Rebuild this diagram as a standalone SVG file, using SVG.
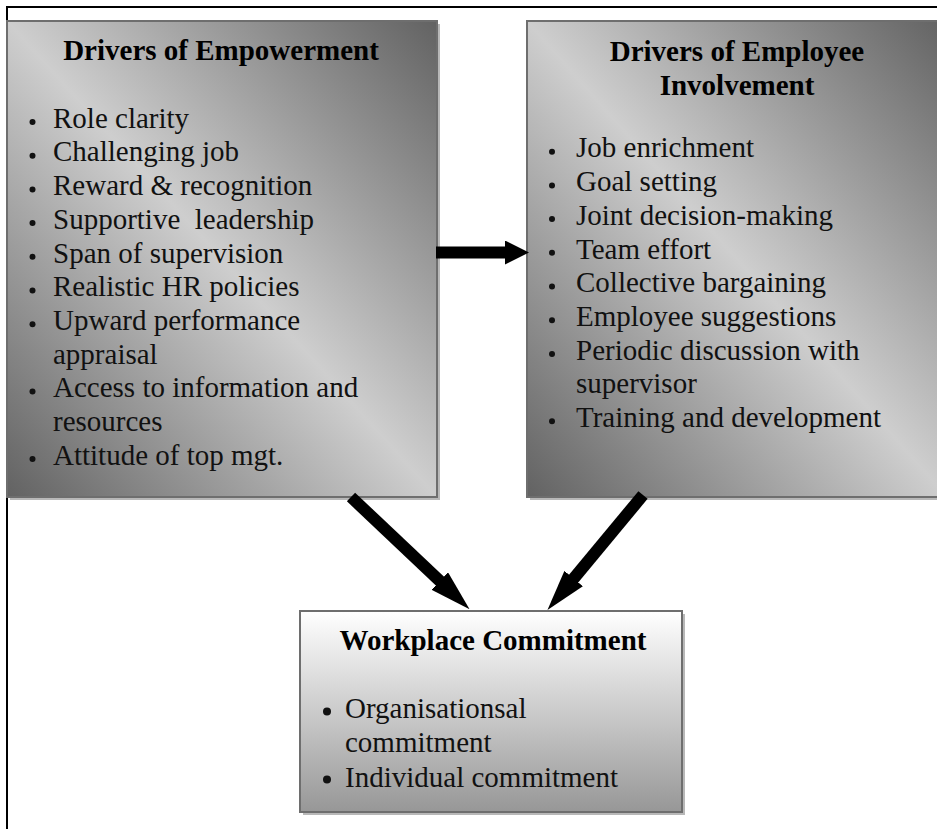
<svg xmlns="http://www.w3.org/2000/svg" width="937" height="829" viewBox="0 0 937 829">
<style>
  .frame { stroke: #000; stroke-width: 2; fill: none; }
  .box { stroke: #6e6e6e; stroke-width: 2; }
  .shadow { fill: #b8b8b8; }
  .title { font-family: "Liberation Serif", "Times New Roman", serif; font-size: 29px; font-weight: bold; fill: #000; text-anchor: middle; }
  .item { font-family: "Liberation Serif", "Times New Roman", serif; font-size: 29px; fill: #111; white-space: pre; }
  .bullet { fill: #111; }
  .conn { stroke: #000; stroke-width: 12; fill: none; }
</style>
<defs>
  <linearGradient id="diag" x1="1" y1="0" x2="0" y2="1">
    <stop offset="0" stop-color="#626262"/>
    <stop offset="0.5" stop-color="#cecece"/>
    <stop offset="1" stop-color="#626262"/>
  </linearGradient>
  <linearGradient id="vert" x1="0" y1="0" x2="0" y2="1">
    <stop offset="0" stop-color="#ffffff"/>
    <stop offset="1" stop-color="#979797"/>
  </linearGradient>
  <marker id="headShort" markerUnits="userSpaceOnUse" viewBox="0 -12 24 24" markerWidth="24" markerHeight="24" refX="1" refY="0" orient="auto">
    <path d="M0,-12 L24,0 L0,12 z" fill="#000"/>
  </marker>
  <marker id="headLong" markerUnits="userSpaceOnUse" viewBox="0 -12 41 24" markerWidth="41" markerHeight="24" refX="1" refY="0" orient="auto">
    <path d="M0,-12 L41,0 L0,12 z" fill="#000"/>
  </marker>
</defs>

<rect width="937" height="829" fill="#fff"/>
<path class="frame" d="M7,829 V7 H937"/>

<g id="empowerment">
  <rect class="shadow" x="10" y="24" width="430" height="476"/>
  <rect class="box" x="7" y="21" width="430" height="476" fill="url(#diag)"/>
  <text class="title" x="221" y="60">Drivers of Empowerment</text>
  <circle class="bullet" cx="32.5" cy="122" r="3"/>
  <text class="item" x="53" y="127.7">Role clarity</text>
  <circle class="bullet" cx="32.5" cy="155.7" r="3"/>
  <text class="item" x="53" y="161.4">Challenging job</text>
  <circle class="bullet" cx="32.5" cy="189.4" r="3"/>
  <text class="item" x="53" y="195.1">Reward &amp; recognition</text>
  <circle class="bullet" cx="32.5" cy="223.1" r="3"/>
  <text class="item" x="53" y="228.8">Supportive  leadership</text>
  <circle class="bullet" cx="32.5" cy="256.8" r="3"/>
  <text class="item" x="53" y="262.5">Span of supervision</text>
  <circle class="bullet" cx="32.5" cy="290.5" r="3"/>
  <text class="item" x="53" y="296.2">Realistic HR policies</text>
  <circle class="bullet" cx="32.5" cy="324.2" r="3"/>
  <text class="item" x="53" y="329.9">Upward performance</text>
  <text class="item" x="53" y="363.6">appraisal</text>
  <circle class="bullet" cx="32.5" cy="391.6" r="3"/>
  <text class="item" x="53" y="397.3">Access to information and</text>
  <text class="item" x="53" y="431">resources</text>
  <circle class="bullet" cx="32.5" cy="459" r="3"/>
  <text class="item" x="53" y="464.7">Attitude of top mgt.</text>
</g>

<g id="involvement">
  <rect class="shadow" x="530" y="24" width="420" height="476"/>
  <rect class="box" x="527" y="21" width="420" height="476" fill="url(#diag)"/>
  <text class="title" x="737" y="61">Drivers of Employee</text>
  <text class="title" x="737" y="94.5">Involvement</text>
  <circle class="bullet" cx="552" cy="151.7" r="3"/>
  <text class="item" x="576" y="157.4">Job enrichment</text>
  <circle class="bullet" cx="552" cy="185.4" r="3"/>
  <text class="item" x="576" y="191.1">Goal setting</text>
  <circle class="bullet" cx="552" cy="219.1" r="3"/>
  <text class="item" x="576" y="224.8">Joint decision-making</text>
  <circle class="bullet" cx="552" cy="252.8" r="3"/>
  <text class="item" x="576" y="258.5">Team effort</text>
  <circle class="bullet" cx="552" cy="286.5" r="3"/>
  <text class="item" x="576" y="292.2">Collective bargaining</text>
  <circle class="bullet" cx="552" cy="320.2" r="3"/>
  <text class="item" x="576" y="325.9">Employee suggestions</text>
  <circle class="bullet" cx="552" cy="353.9" r="3"/>
  <text class="item" x="576" y="359.6">Periodic discussion with</text>
  <text class="item" x="576" y="393.3">supervisor</text>
  <circle class="bullet" cx="552" cy="421.3" r="3"/>
  <text class="item" x="576" y="427">Training and development</text>
</g>

<g id="commitment">
  <rect class="shadow" x="303" y="614" width="382" height="201"/>
  <rect class="box" x="300" y="611" width="382" height="201" fill="url(#vert)"/>
  <text class="title" x="493" y="650">Workplace Commitment</text>
  <circle class="bullet" cx="327" cy="711.5" r="4"/>
  <text class="item" x="345" y="718.3">Organisationsal</text>
  <text class="item" x="345" y="751.5">commitment</text>
  <circle class="bullet" cx="327" cy="779.5" r="4"/>
  <text class="item" x="345" y="786.5">Individual commitment</text>
</g>

<g id="connectors">
  <line class="conn" x1="436" y1="252.5" x2="506" y2="252.5" marker-end="url(#headShort)"/>
  <line class="conn" x1="351" y1="497" x2="440.5" y2="581.7" marker-end="url(#headLong)"/>
  <line class="conn" x1="643" y1="495" x2="573" y2="579.3" marker-end="url(#headLong)"/>
</g>
</svg>
